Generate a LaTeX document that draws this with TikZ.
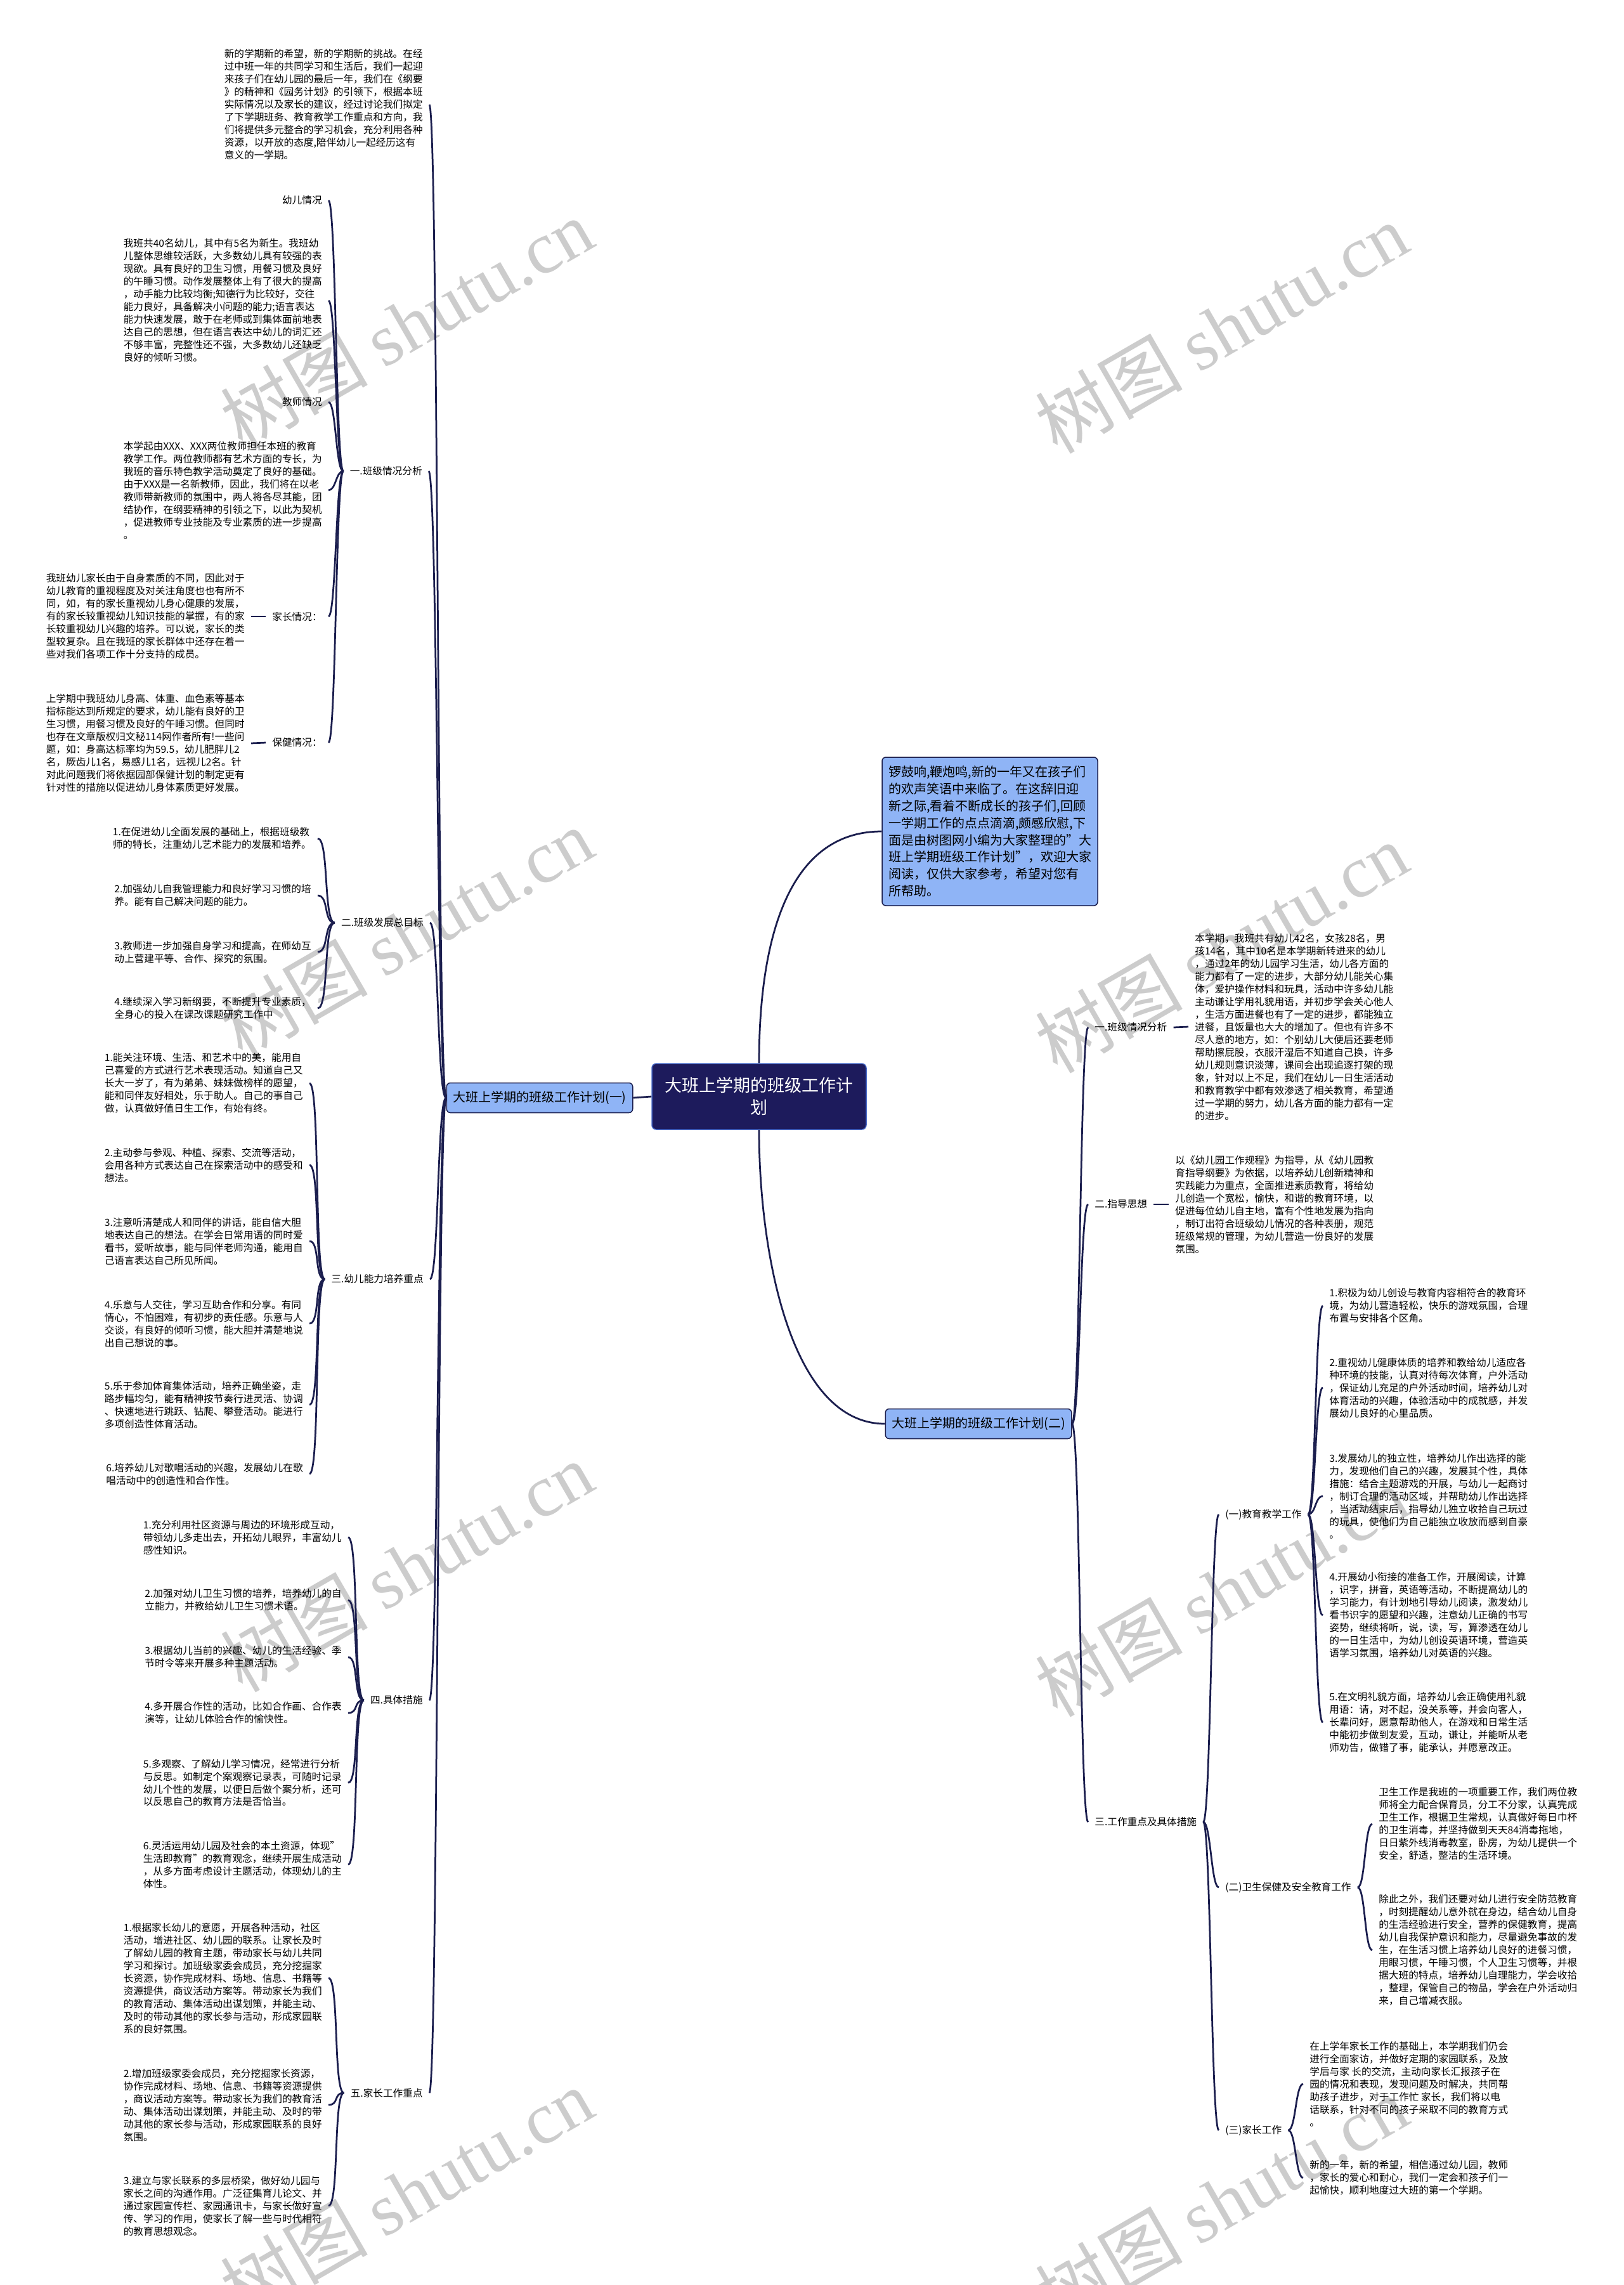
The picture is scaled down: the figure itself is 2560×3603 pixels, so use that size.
\documentclass[tikz,border=0pt]{standalone}
\usepackage{fontspec}
\setmainfont{Noto Sans CJK SC}
\newfontfamily\wmserif{Liberation Serif}
\definecolor{linkcol}{RGB}{27,30,78}
\definecolor{topiccol}{RGB}{143,180,246}
\definecolor{rootcol}{RGB}{29,27,92}
\definecolor{rootedge}{RGB}{70,105,200}
\definecolor{markcol}{RGB}{204,204,204}
\tikzset{
  fanlink/.style={draw=linkcol,line width=0.55mm},
  leaf text/.style={inner xsep=2mm,inner ysep=0pt,align=left,font=\fontsize{8.9pt}{11.38pt}\selectfont},
  branch box/.style={draw=linkcol,line width=0.3mm,fill=topiccol,rounded corners=1.2mm,inner xsep=2mm,minimum height=9.4mm,font=\fontsize{11.38pt}{13pt}\selectfont},
  root box/.style={draw=rootedge,line width=0.3mm,fill=rootcol,text=white,rounded corners=1.4mm,align=center,minimum width=67.6mm,minimum height=20.8mm,font=\fontsize{15.4pt}{19.9pt}\selectfont},
  intro box/.style={branch box,align=left,minimum width=66.4mm,minimum height=46.8mm,font=\fontsize{11.38pt}{15.3pt}\selectfont},
  watermark/.style={text=markcol,rotate=30,font=\fontsize{66pt}{66pt}\selectfont}
}

\begin{document}
\begin{tikzpicture}[x=0.2mm,y=-0.2mm]
  \fill[white] (0,0) rectangle (2560,3603);
  \useasboundingbox (0,0) rectangle (2560,3603);

  % watermarks
  \foreach \wx/\wy [count=\k] in {641/510,1926/517,641/1471,1926/1494,641/2470,1926/2509,641/3458,1926/3470}
    \node[watermark] (wm\k) at (\wx,\wy) {树图 {\wmserif shutu.cn}};

  % centre and the two plans
  \node[root box] (root) at (1197,1729) {大班上学期的班级工作计\\划};
  \node[intro box] (intro) at (1561,1311) {锣鼓响,鞭炮鸣,新的一年又在孩子们\\的欢声笑语中来临了。在这辞旧迎\\新之际,看着不断成长的孩子们,回顾\\一学期工作的点点滴滴,颇感欣慰,下\\面是由树图网小编为大家整理的"大\\班上学期班级工作计划"，欢迎大家\\阅读，仅供大家参考，希望对您有\\所帮助。};
  \node[branch box] (plan1) at (851,1731) {大班上学期的班级工作计划(一)};
  \node[branch box] (plan2) at (1543,2245) {大班上学期的班级工作计划(二)};

  % plan one, left side
  \node[leaf text,anchor=east] (topp) at (677,165) {新的学期新的希望，新的学期新的挑战。在经\\过中班一年的共同学习和生活后，我们一起迎\\来孩子们在幼儿园的最后一年，我们在《纲要\\》的精神和《园务计划》的引领下，根据本班\\实际情况以及家长的建议，经过讨论我们拟定\\了下学期班务、教育教学工作重点和方向，我\\们将提供多元整合的学习机会，充分利用各种\\资源，以开放的态度,陪伴幼儿一起经历这有\\意义的一学期。};
  \node[leaf text,anchor=east] (sit) at (676,743) {一.班级情况分析};
  \node[leaf text,anchor=east] (kidlbl) at (518,316) {幼儿情况};
  \node[leaf text,anchor=east] (kidp) at (518,474) {我班共40名幼儿，其中有5名为新生。我班幼\\儿整体思维较活跃，大多数幼儿具有较强的表\\现欲。具有良好的卫生习惯，用餐习惯及良好\\的午睡习惯。动作发展整体上有了很大的提高\\，动手能力比较均衡;知德行为比较好，交往\\能力良好，具备解决小问题的能力;语言表达\\能力快速发展，敢于在老师或到集体面前地表\\达自己的思想，但在语言表达中幼儿的词汇还\\不够丰富，完整性还不强，大多数幼儿还缺乏\\良好的倾听习惯。};
  \node[leaf text,anchor=east] (teachlbl) at (518,634) {教师情况};
  \node[leaf text,anchor=east] (teachp) at (518,773) {本学起由XXX、XXX两位教师担任本班的教育\\教学工作。两位教师都有艺术方面的专长，为\\我班的音乐特色教学活动奠定了良好的基础。\\由于XXX是一名新教师，因此，我们将在以老\\教师带新教师的氛围中，两人将各尽其能，团\\结协作，在纲要精神的引领之下，以此为契机\\，促进教师专业技能及专业素质的进一步提高\\。};
  \node[leaf text,anchor=east] (famlbl) at (518,972) {家长情况：};
  \node[leaf text,anchor=east] (famp) at (396,972) {我班幼儿家长由于自身素质的不同，因此对于\\幼儿教育的重视程度及对关注角度也也有所不\\同，如，有的家长重视幼儿身心健康的发展，\\有的家长较重视幼儿知识技能的掌握，有的家\\长较重视幼儿兴趣的培养。可以说，家长的类\\型较复杂。且在我班的家长群体中还存在着一\\些对我们各项工作十分支持的成员。};
  \node[leaf text,anchor=east] (carelbl) at (518,1171) {保健情况：};
  \node[leaf text,anchor=east] (carep) at (396,1172) {上学期中我班幼儿身高、体重、血色素等基本\\指标能达到所规定的要求，幼儿能有良好的卫\\生习惯，用餐习惯及良好的午睡习惯。但同时\\也存在文章版权归文秘114网作者所有!一些问\\题，如：身高达标率均为59.5，幼儿肥胖儿2\\名，厥齿儿1名，易感儿1名，远视儿2名。针\\对此问题我们将依据园部保健计划的制定更有\\针对性的措施以促进幼儿身体素质更好发展。};

  \node[leaf text,anchor=east] (goal) at (678,1455) {二.班级发展总目标};
  \node[leaf text,anchor=east] (goal1) at (501,1322) {1.在促进幼儿全面发展的基础上，根据班级教\\师的特长，注重幼儿艺术能力的发展和培养。};
  \node[leaf text,anchor=east] (goal2) at (501,1412) {2.加强幼儿自我管理能力和良好学习习惯的培\\养。能有自己解决问题的能力。};
  \node[leaf text,anchor=east] (goal3) at (501,1501) {3.教师进一步加强自身学习和提高，在师幼互\\动上营建平等、合作、探究的氛围。};
  \node[leaf text,anchor=east] (goal4) at (501,1590) {4.继续深入学习新纲要，不断提升专业素质，\\全身心的投入在课改课题研究工作中};

  \node[leaf text,anchor=east] (skill) at (678,2017) {三.幼儿能力培养重点};
  \node[leaf text,anchor=east] (skill1) at (488,1708) {1.能关注环境、生活、和艺术中的美，能用自\\己喜爱的方式进行艺术表现活动。知道自己又\\长大一岁了，有为弟弟、妹妹做榜样的愿望，\\能和同伴友好相处，乐于助人。自己的事自己\\做，认真做好值日生工作，有始有终。};
  \node[leaf text,anchor=east] (skill2) at (488,1837) {2.主动参与参观、种植、探索、交流等活动，\\会用各种方式表达自己在探索活动中的感受和\\想法。};
  \node[leaf text,anchor=east] (skill3) at (488,1957) {3.注意听清楚成人和同伴的讲话，能自信大胆\\地表达自己的想法。在学会日常用语的同时爱\\看书，爱听故事，能与同伴老师沟通，能用自\\己语言表达自己所见所闻。};
  \node[leaf text,anchor=east] (skill4) at (488,2087) {4.乐意与人交往，学习互助合作和分享。有同\\情心，不怕困难，有初步的责任感。乐意与人\\交谈，有良好的倾听习惯，能大胆并清楚地说\\出自己想说的事。};
  \node[leaf text,anchor=east] (skill5) at (488,2215) {5.乐于参加体育集体活动，培养正确坐姿，走\\路步幅均匀，能有精神按节奏行进灵活、协调\\、快速地进行跳跃、钻爬、攀登活动。能进行\\多项创造性体育活动。};
  \node[leaf text,anchor=east] (skill6) at (488,2324) {6.培养幼儿对歌唱活动的兴趣，发展幼儿在歌\\唱活动中的创造性和合作性。};

  \node[leaf text,anchor=east] (act) at (677,2681) {四.具体措施};
  \node[leaf text,anchor=east] (act1) at (549,2424) {1.充分利用社区资源与周边的环境形成互动，\\带领幼儿多走出去，开拓幼儿眼界，丰富幼儿\\感性知识。};
  \node[leaf text,anchor=east] (act2) at (549,2523) {2.加强对幼儿卫生习惯的培养，培养幼儿的自\\立能力，并教给幼儿卫生习惯术语。};
  \node[leaf text,anchor=east] (act3) at (549,2613) {3.根据幼儿当前的兴趣、幼儿的生活经验、季\\节时令等来开展多种主题活动。};
  \node[leaf text,anchor=east] (act4) at (549,2701) {4.多开展合作性的活动，比如合作画、合作表\\演等，让幼儿体验合作的愉快性。};
  \node[leaf text,anchor=east] (act5) at (549,2811) {5.多观察、了解幼儿学习情况，经常进行分析\\与反思。如制定个案观察记录表，可随时记录\\幼儿个性的发展，以便日后做个案分析，还可\\以反思自己的教育方法是否恰当。};
  \node[leaf text,anchor=east] (act6) at (549,2940) {6.灵活运用幼儿园及社会的本土资源，体现"\\生活即教育"的教育观念，继续开展生成活动\\，从多方面考虑设计主题活动，体现幼儿的主\\体性。};

  \node[leaf text,anchor=east] (home) at (677,3300) {五.家长工作重点};
  \node[leaf text,anchor=east] (home1) at (518,3119) {1.根据家长幼儿的意愿，开展各种活动，社区\\活动，增进社区、幼儿园的联系。让家长及时\\了解幼儿园的教育主题，带动家长与幼儿共同\\学习和探讨。加班级家委会成员，充分挖掘家\\长资源，协作完成材料、场地、信息、书籍等\\资源提供，商议活动方案等。带动家长为我们\\的教育活动、集体活动出谋划策，并能主动、\\及时的带动其他的家长参与活动，形成家园联\\系的良好氛围。};
  \node[leaf text,anchor=east] (home2) at (518,3319) {2.增加班级家委会成员，充分挖掘家长资源，\\协作完成材料、场地、信息、书籍等资源提供\\，商议活动方案等。带动家长为我们的教育活\\动、集体活动出谋划策，并能主动、及时的带\\动其他的家长参与活动，形成家园联系的良好\\氛围。};
  \node[leaf text,anchor=east] (home3) at (518,3478) {3.建立与家长联系的多层桥梁，做好幼儿园与\\家长之间的沟通作用。广泛征集育儿论文、并\\通过家园宣传栏、家园通讯卡，与家长做好宣\\传、学习的作用，使家长了解一些与时代相符\\的教育思想观念。};

  % plan two, right side
  \node[leaf text,anchor=west] (sitB) at (1716,1620) {一.班级情况分析};
  \node[leaf text,anchor=west] (sitBp) at (1874,1619) {本学期，我班共有幼儿42名，女孩28名，男\\孩14名，其中10名是本学期新转进来的幼儿\\，通过2年的幼儿园学习生活，幼儿各方面的\\能力都有了一定的进步，大部分幼儿能关心集\\体，爱护操作材料和玩具，活动中许多幼儿能\\主动谦让学用礼貌用语，并初步学会关心他人\\，生活方面进餐也有了一定的进步，都能独立\\进餐，且饭量也大大的增加了。但也有许多不\\尽人意的地方，如：个别幼儿大便后还要老师\\帮助擦屁股，衣服汗湿后不知道自己换，许多\\幼儿规则意识淡薄，课间会出现追逐打架的现\\象，针对以上不足，我们在幼儿一日生活活动\\和教育教学中都有效渗透了相关教育，希望通\\过一学期的努力，幼儿各方面的能力都有一定\\的进步。};
  \node[leaf text,anchor=west] (guide) at (1716,1899) {二.指导思想};
  \node[leaf text,anchor=west] (guidep) at (1843,1899) {以《幼儿园工作规程》为指导，从《幼儿园教\\育指导纲要》为依据，以培养幼儿创新精神和\\实践能力为重点，全面推进素质教育，将给幼\\儿创造一个宽松，愉快，和谐的教育环境，以\\促进每位幼儿自主地，富有个性地发展为指向\\，制订出符合班级幼儿情况的各种表册，规范\\班级常规的管理，为幼儿营造一份良好的发展\\氛围。};
  \node[leaf text,anchor=west] (focus) at (1716,2873) {三.工作重点及具体措施};

  \node[leaf text,anchor=west] (edu) at (1922,2388) {(一)教育教学工作};
  \node[leaf text,anchor=west] (edu1) at (2086,2059) {1.积极为幼儿创设与教育内容相符合的教育环\\境，为幼儿营造轻松，快乐的游戏氛围，合理\\布置与安排各个区角。};
  \node[leaf text,anchor=west] (edu2) at (2086,2188) {2.重视幼儿健康体质的培养和教给幼儿适应各\\种环境的技能，认真对待每次体育，户外活动\\，保证幼儿充足的户外活动时间，培养幼儿对\\体育活动的兴趣，体验活动中的成就感，并发\\展幼儿良好的心里品质。};
  \node[leaf text,anchor=west] (edu3) at (2086,2359) {3.发展幼儿的独立性，培养幼儿作出选择的能\\力，发现他们自己的兴趣，发展其个性，具体\\措施：结合主题游戏的开展，与幼儿一起商讨\\，制订合理的活动区域，并帮助幼儿作出选择\\，当活动结束后，指导幼儿独立收拾自己玩过\\的玩具，使他们为自己能独立收放而感到自豪\\。};
  \node[leaf text,anchor=west] (edu4) at (2086,2547) {4.开展幼小衔接的准备工作，开展阅读，计算\\，识字，拼音，英语等活动，不断提高幼儿的\\学习能力，有计划地引导幼儿阅读，激发幼儿\\看书识字的愿望和兴趣，注意幼儿正确的书写\\姿势，继续将听，说，读，写，算渗透在幼儿\\的一日生活中，为幼儿创设英语环境，营造英\\语学习氛围，培养幼儿对英语的兴趣。};
  \node[leaf text,anchor=west] (edu5) at (2086,2716) {5.在文明礼貌方面，培养幼儿会正确使用礼貌\\用语：请，对不起，没关系等，并会向客人，\\长辈问好，愿意帮助他人，在游戏和日常生活\\中能初步做到友爱，互动，谦让，并能听从老\\师劝告，做错了事，能承认，并愿意改正。};

  \node[leaf text,anchor=west] (safe) at (1922,2976) {(二)卫生保健及安全教育工作};
  \node[leaf text,anchor=west] (safe1) at (2164,2876) {卫生工作是我班的一项重要工作，我们两位教\\师将全力配合保育员，分工不分家，认真完成\\卫生工作，根据卫生常规，认真做好每日巾杯\\的卫生消毒，并坚持做到天天84消毒拖地，\\日日紫外线消毒教室，卧房，为幼儿提供一个\\安全，舒适，整洁的生活环境。};
  \node[leaf text,anchor=west] (safe2) at (2164,3075) {除此之外，我们还要对幼儿进行安全防范教育\\，时刻提醒幼儿意外就在身边，结合幼儿自身\\的生活经验进行安全，营养的保健教育，提高\\幼儿自我保护意识和能力，尽量避免事故的发\\生，在生活习惯上培养幼儿良好的进餐习惯，\\用眼习惯，午睡习惯，个人卫生习惯等，并根\\据大班的特点，培养幼儿自理能力，学会收拾\\，整理，保管自己的物品，学会在户外活动归\\来，自己增减衣服。};

  \node[leaf text,anchor=west] (liaison) at (1922,3359) {(三)家长工作};
  \node[leaf text,anchor=west] (liaison1) at (2055,3286) {在上学年家长工作的基础上，本学期我们仍会\\进行全面家访，并做好定期的家园联系，及放\\学后与家 长的交流，主动向家长汇报孩子在\\园的情况和表现，发现问题及时解决，共同帮\\助孩子进步，对于工作忙 家长，我们将以电\\话联系，针对不同的孩子采取不同的教育方式\\。};
  \node[leaf text,anchor=west] (liaison2) at (2055,3434) {新的一年，新的希望，相信通过幼儿园，教师\\，家长的爱心和耐心，我们一定会和孩子们一\\起愉快，顺利地度过大班的第一个学期。};

  % centre links
  \draw[fanlink] (root.west) -- (plan1.east);
  \draw[fanlink] (root.north) .. controls +(0,-190) and +(-150,0) .. (intro.west);
  \draw[fanlink] (root.south) .. controls +(0,190) and +(-150,0) .. (plan2.west);

  % left fans
  \foreach \c in {topp,sit,goal,skill,act,home}
    \draw[fanlink] (plan1.west) .. controls +(-14,0) and +(14,0) .. (\c.east);
  \foreach \c in {kidlbl,kidp,teachlbl,teachp,famlbl,carelbl}
    \draw[fanlink] (sit.west) .. controls +(-12,0) and +(12,0) .. (\c.east);
  \draw[fanlink] (famlbl.west) -- (famp.east);
  \draw[fanlink] (carelbl.west) -- (carep.east);
  \foreach \i in {1,...,4}
    \draw[fanlink] (goal.west) .. controls +(-18,0) and +(18,0) .. (goal\i.east);
  \foreach \i in {1,...,6}
    \draw[fanlink] (skill.west) .. controls +(-17,0) and +(17,0) .. (skill\i.east);
  \foreach \i in {1,...,6}
    \draw[fanlink] (act.west) .. controls +(-17,0) and +(17,0) .. (act\i.east);
  \foreach \i in {1,...,3}
    \draw[fanlink] (home.west) .. controls +(-17,0) and +(17,0) .. (home\i.east);

  % right fans
  \foreach \c in {sitB,guide,focus}
    \draw[fanlink] (plan2.east) .. controls +(13,0) and +(-13,0) .. (\c.west);
  \draw[fanlink] (sitB.east) -- (sitBp.west);
  \draw[fanlink] (guide.east) -- (guidep.west);
  \foreach \c in {edu,safe,liaison}
    \draw[fanlink] (focus.east) .. controls +(12,0) and +(-12,0) .. (\c.west);
  \foreach \i in {1,...,5}
    \draw[fanlink] (edu.east) .. controls +(12,0) and +(-12,0) .. (edu\i.west);
  \foreach \i in {1,2}
    \draw[fanlink] (safe.east) .. controls +(12,0) and +(-12,0) .. (safe\i.west);
  \foreach \i in {1,2}
    \draw[fanlink] (liaison.east) .. controls +(12,0) and +(-12,0) .. (liaison\i.west);
\end{tikzpicture}
\end{document}
